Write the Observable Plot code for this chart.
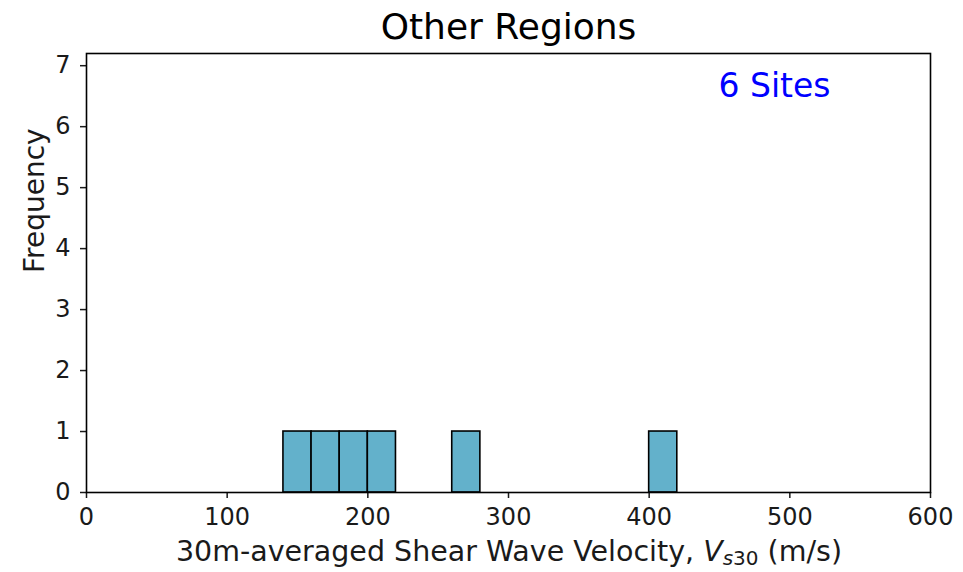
<!DOCTYPE html>
<html>
<head>
<meta charset="utf-8">
<script src="https://cdn.jsdelivr.net/npm/d3@7"></script>
<script src="https://cdn.jsdelivr.net/npm/@observablehq/plot@0.6"></script>
<style>
  html, body { margin: 0; padding: 0; background: #fff; }
  #chart svg { display: block; }
</style>
</head>
<body>
<div id="chart"></div>
<script>
const title = "Other Regions";
const annotation = "6 Sites";
const binStart = [140, 160, 180, 200, 260, 400];
const binEnd = [160, 180, 200, 220, 280, 420];
const counts = [1, 1, 1, 1, 1, 1];
const xTicks = [0, 100, 200, 300, 400, 500, 600];
const yTicks = [0, 1, 2, 3, 4, 5, 6, 7];
const yLabel = "Frequency";

const bins = binStart.map((s, i) => ({x1: s, x2: binEnd[i], count: counts[i]}));

const font = "DejaVu Sans, sans-serif";
const chart = Plot.plot({
  width: 963,
  height: 572,
  marginLeft: 86,
  marginRight: 33,
  marginTop: 53,
  marginBottom: 80,
  style: {fontFamily: font, fontSize: "24px", color: "#1a1a1a", background: "#fff"},
  x: {domain: [0, 600], ticks: xTicks, tickSize: 6, tickPadding: 9, label: null},
  y: {domain: [0, 7.2], ticks: yTicks, tickSize: 6, tickPadding: 10, label: null},
  marks: [
    Plot.rectY(bins, {x1: "x1", x2: "x2", y: "count", fill: "#63b1cb", stroke: "#000", strokeWidth: 1.6}),
    Plot.frame({stroke: "#000", strokeWidth: 1.6}),
    Plot.text([title], {frameAnchor: "top", dy: -26, text: d => d, fontSize: 36, lineAnchor: "middle", fill: "#000"}),
    Plot.text([annotation], {frameAnchor: "top-right", dx: -100, dy: 33, text: d => d, fontSize: 33, textAnchor: "end", lineAnchor: "middle", fill: "#0000ff"}),
    Plot.text([yLabel], {frameAnchor: "left", dx: -51, rotate: -90, text: d => d, fontSize: 28, lineAnchor: "middle", fill: "#1a1a1a"})
  ]
});
document.getElementById("chart").appendChild(chart);

// x-axis label with subscript
const svg = d3.select(chart);
const t = svg.append("text")
  .attr("x", 509)
  .attr("y", 553)
  .attr("text-anchor", "middle")
  .attr("dominant-baseline", "middle")
  .attr("font-family", font)
  .attr("font-size", 28.5)
  .attr("fill", "#1a1a1a");
t.append("tspan").text("30m-averaged Shear Wave Velocity, ");
t.append("tspan").attr("font-style", "italic").text("V");
t.append("tspan").attr("font-style", "italic").attr("font-size", 20).attr("dy", 6).text("s");
t.append("tspan").attr("font-size", 20).text("30");
t.append("tspan").attr("dy", -6).text(" (m/s)");
svg.selectAll("[aria-label='x-axis tick'] path, [aria-label='y-axis tick'] path").attr("stroke-width", 1.5);
</script>
</body>
</html>
